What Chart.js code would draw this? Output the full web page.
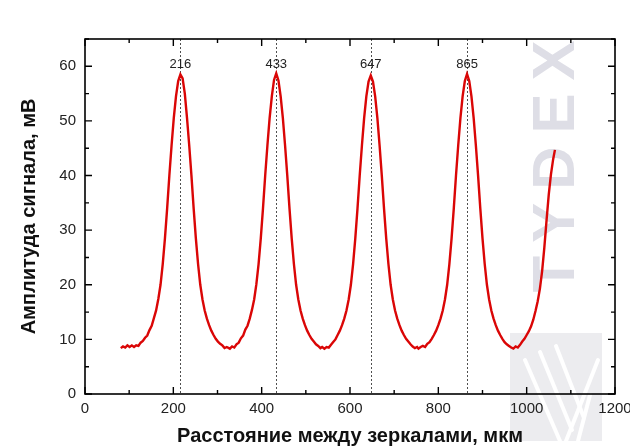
<!DOCTYPE html>
<html>
<head>
<meta charset="utf-8">
<script src="https://cdn.jsdelivr.net/npm/chart.js@4.4.1/dist/chart.umd.min.js"></script>
<style>
  html, body { margin: 0; padding: 0; background: #fff; }
  #wrap { width: 630px; height: 448px; position: relative; }
</style>
</head>
<body>
<div id="wrap"><canvas id="c" width="630" height="448"></canvas></div>
<script>
// Distance between mirrors (µm) and measured signal amplitude (mV)
const distance = [
  81, 86, 91, 96, 101, 106,
  111, 116, 121, 126, 131, 136, 141, 146, 151, 156, 161, 166, 171, 176, 181, 186, 191, 196, 201, 206, 211,
  216, 221, 226, 231, 236, 241, 246, 251, 256, 261, 266, 271, 276, 281, 286, 291, 296, 301, 306, 311, 316, 321,
  328, 333, 338, 343, 348, 353, 358, 363, 368, 373, 378, 383, 388, 393, 398, 403, 408, 413, 418, 423, 428,
  433, 438, 443, 448, 453, 458, 463, 468, 473, 478, 483, 488, 493, 498, 503, 508, 513, 518, 523, 528, 533,
  537, 542, 547, 552, 557, 562, 567, 572, 577, 582, 587, 592, 597, 602, 607, 612, 617, 622, 627, 632, 637, 642,
  647, 652, 657, 662, 667, 672, 677, 682, 687, 692, 697, 702, 707, 712, 717, 722, 727, 732, 737, 742, 747, 752,
  755, 760, 765, 770, 775, 780, 785, 790, 795, 800, 805, 810, 815, 820, 825, 830, 835, 840, 845, 850, 855, 860,
  865, 870, 875, 880, 885, 890, 895, 900, 905, 910, 915, 920, 925, 930, 935, 940, 945, 950, 955, 960, 965, 970,
  975, 980, 985, 990, 995, 1000, 1005, 1010, 1015, 1020, 1025, 1030, 1035, 1040, 1045, 1050, 1055, 1060, 1064
];
const amplitude = [
  8.4, 8.7, 8.5, 8.9, 8.6, 8.9,
  8.6, 8.9, 8.8, 9.4, 9.7, 10.3, 10.7, 11.7, 12.5, 13.9, 15.3, 17.4, 20.0, 23.8, 28.5, 34.0, 40.0, 45.5, 50.5, 54.5, 57.3,
  58.5, 57.8, 55.0, 50.5, 45.5, 40.0, 34.0, 28.5, 23.8, 20.0, 17.3, 15.3, 13.8, 12.6, 11.6, 10.8, 10.1, 9.6, 9.2, 8.9, 8.4, 8.6,
  8.3, 8.7, 8.5, 9.1, 9.4, 10.2, 10.7, 11.8, 12.5, 13.8, 15.4, 17.3, 20.1, 23.8, 28.5, 34.0, 40.0, 45.5, 50.5, 54.5, 57.5,
  58.7, 57.4, 54.5, 50.5, 45.5, 40.0, 34.0, 28.5, 23.8, 20.0, 17.3, 15.3, 13.8, 12.6, 11.6, 10.8, 10.1, 9.6, 9.1, 8.8, 8.4,
  8.6, 8.3, 8.6, 8.5, 9.0, 9.5, 10.0, 10.8, 11.6, 12.6, 13.8, 15.3, 17.3, 20.0, 23.8, 28.5, 34.0, 40.0, 45.5, 50.5, 54.5, 57.2,
  58.3, 57.2, 54.5, 50.5, 45.5, 40.0, 34.0, 28.5, 23.8, 20.0, 17.3, 15.3, 13.8, 12.6, 11.6, 10.8, 10.1, 9.6, 9.1, 8.7, 8.4, 8.6,
  8.3, 8.6, 8.8, 8.6, 9.2, 9.5, 10.1, 10.8, 11.6, 12.6, 13.8, 15.3, 17.3, 20.0, 23.8, 28.5, 34.0, 40.0, 45.5, 50.5, 54.5, 57.3,
  58.6, 57.3, 54.5, 50.5, 45.5, 40.0, 34.0, 28.5, 23.8, 20.0, 17.3, 15.3, 13.8, 12.6, 11.6, 10.8, 10.1, 9.5, 9.1, 8.8, 8.5, 8.3,
  8.7, 8.5, 9.0, 9.6, 10.1, 10.8, 11.5, 12.4, 13.6, 15.2, 17.0, 19.3, 22.5, 26.8, 31.8, 36.5, 40.2, 43.0, 44.7
];
// Resonance peak positions, µm
const peaks = [216, 433, 647, 865];
// Axis tick values
const xTicks = [0, 200, 400, 600, 800, 1000, 1200];
const yTicks = [0, 10, 20, 30, 40, 50, 60];

const FONT = '"Liberation Sans", Arial, sans-serif';

// Background watermark, drawn beneath the axes
const watermark = {
  id: 'watermark',
  beforeDraw(chart) {
    const { ctx } = chart;
    ctx.save();
    ctx.fillStyle = 'rgb(236,236,239)';
    ctx.fillRect(510, 333, 92, 108);
    ctx.strokeStyle = '#fff';
    ctx.lineWidth = 4;
    ctx.lineCap = 'round';
    [[525, 360, 560, 441], [540, 352, 572, 430], [556, 346, 584, 418], [598, 360, 566, 441], [590, 395, 578, 441]]
      .forEach(([x1, y1, x2, y2]) => {
        ctx.beginPath(); ctx.moveTo(x1, y1); ctx.lineTo(x2, y2); ctx.stroke();
      });
    ctx.restore();

    ctx.save();
    ctx.translate(557, 166);
    ctx.rotate(-Math.PI / 2);
    ctx.fillStyle = 'rgb(222,222,230)';
    ctx.font = 'bold 60px ' + FONT;
    ctx.letterSpacing = '13px';
    ctx.textAlign = 'center';
    ctx.textBaseline = 'middle';
    ctx.fillText('TYDEX', 6, 0);
    ctx.restore();
  }
};

// Frame, inward ticks on all four sides, peak markers
const decorations = {
  id: 'decorations',
  beforeDatasetsDraw(chart) {
    const { ctx, chartArea: a, scales: { x } } = chart;
    ctx.save();
    ctx.strokeStyle = '#222';
    ctx.lineWidth = 0.8;
    ctx.setLineDash([2, 2]);
    peaks.forEach(p => {
      const px = Math.round(x.getPixelForValue(p)) + 0.5;
      ctx.beginPath();
      ctx.moveTo(px, a.top);
      ctx.lineTo(px, a.bottom);
      ctx.stroke();
    });
    ctx.restore();
  },
  afterDatasetsDraw(chart) {
    const { ctx, chartArea: a, scales: { x, y } } = chart;
    ctx.save();
    ctx.strokeStyle = '#000';
    ctx.lineWidth = 1.6;
    ctx.strokeRect(a.left, a.top, a.right - a.left, a.bottom - a.top);
    ctx.lineWidth = 1.4;
    ctx.beginPath();
    for (let v = 0; v <= 1200; v += 100) {
      const px = x.getPixelForValue(v);
      const len = v % 200 === 0 ? 7 : 4;
      ctx.moveTo(px, a.bottom); ctx.lineTo(px, a.bottom - len);
      ctx.moveTo(px, a.top); ctx.lineTo(px, a.top + len);
    }
    for (let v = 0; v <= 65; v += 5) {
      const py = y.getPixelForValue(v);
      const len = v % 10 === 0 ? 7 : 4;
      ctx.moveTo(a.left, py); ctx.lineTo(a.left + len, py);
      ctx.moveTo(a.right, py); ctx.lineTo(a.right - len, py);
    }
    ctx.stroke();

    ctx.fillStyle = '#222';
    ctx.font = '13px ' + FONT;
    ctx.textAlign = 'center';
    ctx.textBaseline = 'middle';
    peaks.forEach(p => {
      ctx.fillText(String(p), x.getPixelForValue(p), y.getPixelForValue(60.3));
    });
    ctx.restore();
  }
};

new Chart(document.getElementById('c'), {
  type: 'line',
  data: {
    datasets: [{
      data: distance.map((d, i) => ({ x: d, y: amplitude[i] })),
      borderColor: 'rgb(218,6,6)',
      borderWidth: 2.4,
      pointRadius: 0,
      tension: 0,
      fill: false
    }]
  },
  options: {
    responsive: false,
    animation: false,
    events: [],
    layout: { padding: { top: 39, right: 15, left: 17, bottom: 0 } },
    plugins: { legend: { display: false }, tooltip: { enabled: false } },
    scales: {
      x: {
        type: 'linear',
        min: 0, max: 1200,
        afterBuildTicks(s) { s.ticks = xTicks.map(v => ({ value: v })); },
        afterFit(s) { s.height = 54; s.paddingLeft = 0; s.paddingRight = 0; },
        grid: { display: false, drawTicks: false },
        border: { display: false },
        ticks: {
          padding: 6,
          maxRotation: 0,
          color: '#222',
          font: { family: FONT, size: 15 },
          callback: v => String(v)
        },
        title: {
          display: true,
          text: 'Расстояние между зеркалами, мкм',
          color: '#111',
          font: { family: FONT, size: 20, weight: 'bold' },
          padding: { top: 6, bottom: 0 }
        }
      },
      y: {
        type: 'linear',
        min: 0, max: 65,
        afterBuildTicks(s) { s.ticks = yTicks.map(v => ({ value: v })); },
        afterFit(s) { s.width = 68; s.paddingTop = 0; s.paddingBottom = 0; },
        grid: { display: false, drawTicks: false },
        border: { display: false },
        ticks: {
          padding: 9,
          color: '#222',
          font: { family: FONT, size: 15 },
          callback: v => String(v)
        },
        title: {
          display: true,
          text: 'Амплитуда сигнала, мВ',
          color: '#111',
          font: { family: FONT, size: 20, weight: 'bold' },
          padding: { top: 0, bottom: 0 }
        }
      }
    }
  },
  plugins: [watermark, decorations]
});
</script>
</body>
</html>
